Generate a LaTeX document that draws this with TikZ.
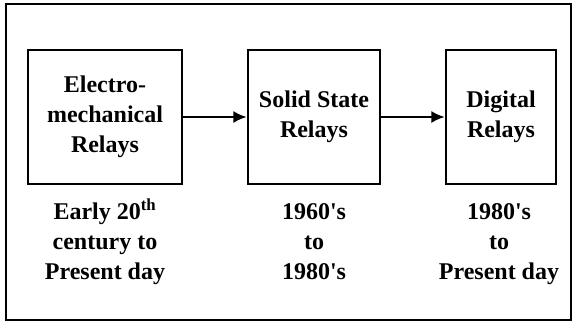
\documentclass[tikz,border=0pt]{standalone}
\usepackage{fontspec}
\setmainfont{Liberation Serif}
\usetikzlibrary{arrows.meta}
\begin{document}
\begin{tikzpicture}[x=0.75pt,y=-0.75pt,
  relay/.style={draw,line width=1.8pt,inner sep=0pt},
  lbl/.style={align=center,font=\fontsize{18}{22.5}\selectfont\bfseries},
  conn/.style={line width=1.8pt,-{Latex[length=10pt,width=9pt]}}]
\useasboundingbox (0,0) rectangle (574,322);
\draw[line width=1.8pt] (6,4) rectangle (571,320);
\node[relay,minimum width=115.5pt,minimum height=100.5pt] (b1) at (105,117) {};
\node[relay,minimum width=99pt,minimum height=100.5pt] (b2) at (314,117) {};
\node[relay,minimum width=82.5pt,minimum height=100.5pt] (b3) at (501,117) {};
\node[lbl] (t1) at (b1.center) {Electro-\\mechanical\\Relays};
\node[lbl] (t2) at (b2.center) {Solid State\\Relays};
\node[lbl] (t3) at (b3.center) {Digital\\Relays};
\node[lbl,anchor=base] (d1) at (105,279) {Early 20\textsuperscript{th}\\century to\\Present day};
\node[lbl,anchor=base] (d2) at (314,279) {1960\textquotesingle s\\to\\1980\textquotesingle s};
\node[lbl,anchor=base] (d3) at (499,279) {1980\textquotesingle s\\to\\Present day};
\draw[conn] (b1.east) -- (b2.west);
\draw[conn] (b2.east) -- (b3.west);
\end{tikzpicture}
\end{document}
